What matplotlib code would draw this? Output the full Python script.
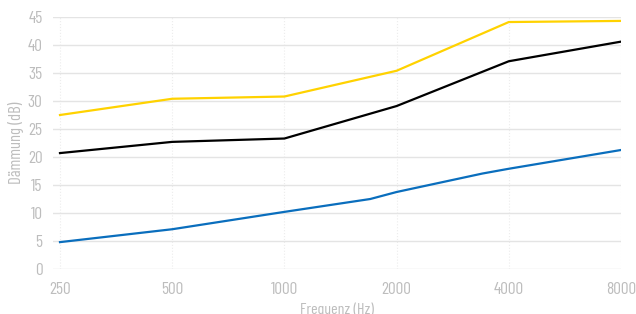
import matplotlib.pyplot as plt

freqs = [250, 500, 1000, 2000, 4000, 8000]
tick_labels = ['250', '500', '1000', '2000', '4000', '8000']
yellow_vals = [27.5, 30.4, 30.8, 35.4, 44.1, 44.3]
black_vals = [20.7, 22.7, 23.3, 29.1, 37.1, 40.6]
blue_freqs = [250, 500, 1000, 1700, 2000, 3400, 4000, 8000]
blue_vals = [4.8, 7.1, 10.2, 12.5, 13.75, 17.05, 17.9, 21.25]

plt.rcParams['font.family'] = ['Barlow Condensed', 'DejaVu Sans']

txt = '#bdbdbd'
fig = plt.figure(figsize=(6.36, 3.14), dpi=100)
ax = fig.add_axes([53/636, 1 - 269/314, (621 - 53)/636, (269 - 17)/314])
ax.set_xscale('log', base=2)

ax.plot(freqs, yellow_vals, color='#ffd200', lw=1.6)
ax.plot(freqs, black_vals, color='#000000', lw=1.6)
ax.plot(blue_freqs, blue_vals, color='#0a6ebd', lw=1.6)

ax.set_xlim(250 * 2 ** (-7/112.3), 8000)
ax.set_ylim(0, 45)
ax.set_xticks(freqs)
ax.set_xticklabels(tick_labels)
ax.minorticks_off()
ax.set_yticks(range(0, 46, 5))

ax.grid(axis='y', color='#e4e4e4', lw=1)
ax.grid(axis='x', color='#ececec', lw=0.8, ls=':')
ax.set_axisbelow(True)
for s in ax.spines.values():
    s.set_visible(False)
ax.tick_params(length=0, colors=txt, labelsize=12.5)
ax.tick_params(axis='y', pad=7.5)
ax.tick_params(axis='x', pad=9)

ax.set_xlabel('Frequenz (Hz)', color=txt, fontsize=11.5, labelpad=4)
ax.set_ylabel('Dämmung (dB)', color=txt, fontsize=12, labelpad=3)

fig.savefig('out.png', dpi=100)
